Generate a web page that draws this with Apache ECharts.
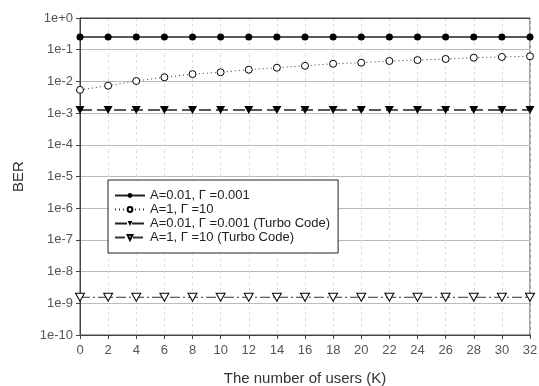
<!DOCTYPE html>
<html>
<head>
<meta charset="utf-8">
<script src="https://cdn.jsdelivr.net/npm/echarts@6/dist/echarts.min.js"></script>
<style>
    html, body { margin: 0; padding: 0; background: #fff; }
    #ber-chart { width: 539px; height: 386px; }
</style>
</head>
<body>
<div id="ber-chart"></div>
<script>
//数据
var users = [0, 2, 4, 6, 8, 10, 12, 14, 16, 18, 20, 22, 24, 26, 28, 30, 32];
var berA001 = [0.25, 0.25, 0.25, 0.25, 0.25, 0.25, 0.25, 0.25, 0.25, 0.25, 0.25, 0.25, 0.25, 0.25, 0.25, 0.25, 0.25];
var berA1 = [0.0054, 0.0073, 0.0103, 0.0135, 0.017, 0.0194, 0.0234, 0.027, 0.031, 0.036, 0.039, 0.044, 0.047, 0.051, 0.056, 0.059, 0.062];
var berA001Turbo = [0.00125, 0.00125, 0.00125, 0.00125, 0.00125, 0.00125, 0.00125, 0.00125, 0.00125, 0.00125, 0.00125, 0.00125, 0.00125, 0.00125, 0.00125, 0.00125, 0.00125];
var berA1Turbo = [1.55e-9, 1.55e-9, 1.55e-9, 1.55e-9, 1.55e-9, 1.55e-9, 1.55e-9, 1.55e-9, 1.55e-9, 1.55e-9, 1.55e-9, 1.55e-9, 1.55e-9, 1.55e-9, 1.55e-9, 1.55e-9, 1.55e-9];
var seriesNames = ["A=0.01, Γ =0.001", "A=1, Γ =10", "A=0.01, Γ =0.001 (Turbo Code)", "A=1, Γ =10 (Turbo Code)"];

function pairs(ys) {
    var out = [];
    for (var i = 0; i < users.length; i++) {
        out.push([users[i], ys[i]]);
    }
    return out;
}

var downTri = "path://M0,0 L10,0 L5,9 Z";

var berChart = echarts.init(document.getElementById("ber-chart"));

var option = {
    animation: false,
    textStyle: { fontFamily: "Arial, Liberation Sans, sans-serif" },
    grid: {
        left: 80,
        right: 9,
        top: 18,
        bottom: 51,
        outerBoundsMode: "none",
        show: true,
        borderColor: "#444",
        borderWidth: 1
    },
    legend: {
        orient: "vertical",
        left: 108,
        top: 180,
        padding: [9, 8, 9, 6],
        itemGap: 1,
        itemWidth: 30,
        itemHeight: 6,
        backgroundColor: "#fff",
        borderColor: "#222",
        borderWidth: 1,
        borderRadius: 0,
        textStyle: { fontSize: 13, color: "#222" },
        data: seriesNames
    },
    xAxis: [
        {
            type: "value",
            min: 0,
            max: 32,
            interval: 2,
            name: "The number of users (K)",
            nameLocation: "middle",
            nameGap: 36,
            nameTextStyle: { fontSize: 15, color: "#333" },
            axisLine: { show: true, lineStyle: { color: "#444" } },
            axisTick: { show: true, length: 4, lineStyle: { color: "#444" } },
            axisLabel: { fontSize: 13, color: "#555", margin: 9 },
            splitLine: { show: true, lineStyle: { color: "#ddd", type: [3, 3] } }
        },
        {
            //上边框
            type: "value",
            position: "top",
            min: 0,
            max: 32,
            axisLine: { show: true, lineStyle: { color: "#444" } },
            axisTick: { show: false },
            axisLabel: { show: false },
            splitLine: { show: false }
        }
    ],
    yAxis: [
        {
            type: "log",
            logBase: 10,
            min: 1e-10,
            max: 1,
            interval: 1,
            name: "BER",
            nameLocation: "middle",
            nameGap: 54,
            nameTextStyle: { fontSize: 15, color: "#333" },
            axisLine: { show: true, lineStyle: { color: "#444" } },
            axisTick: { show: true, length: 4, lineStyle: { color: "#444" } },
            axisLabel: {
                fontSize: 13,
                color: "#555",
                margin: 7,
                formatter: function(v) {
                    var e = Math.round(Math.log10(v));
                    return e >= 0 ? "1e+" + e : "1e" + e;
                }
            },
            splitLine: { show: true, lineStyle: { color: "#bbb" } }
        },
        {
            //右边框
            type: "value",
            position: "right",
            min: 0,
            max: 1,
            axisLine: { show: true, lineStyle: { color: "#444" } },
            axisTick: { show: false },
            axisLabel: { show: false },
            splitLine: { show: false }
        }
    ],
    series: [
        {
            name: seriesNames[0],
            type: "line",
            data: pairs(berA001),
            symbol: "circle",
            symbolSize: 7,
            itemStyle: { color: "#000" },
            lineStyle: { color: "#222", width: 1.5 }
        },
        {
            name: seriesNames[1],
            type: "line",
            data: pairs(berA1),
            symbol: "circle",
            symbolSize: 7,
            itemStyle: { color: "#fff", borderColor: "#000", borderWidth: 1 },
            lineStyle: { color: "#333", width: 1, type: [1, 3] }
        },
        {
            name: seriesNames[2],
            type: "line",
            data: pairs(berA001Turbo),
            symbol: downTri,
            symbolSize: [9, 8],
            itemStyle: { color: "#000" },
            lineStyle: { color: "#222", width: 1.5, type: [12, 5] }
        },
        {
            name: seriesNames[3],
            type: "line",
            data: pairs(berA1Turbo),
            symbol: downTri,
            symbolSize: [9, 8],
            itemStyle: { color: "#fff", borderColor: "#000", borderWidth: 1 },
            lineStyle: { color: "#333", width: 1, type: [10, 3, 2, 3] }
        }
    ]
};

berChart.setOption(option);
</script>
</body>
</html>
